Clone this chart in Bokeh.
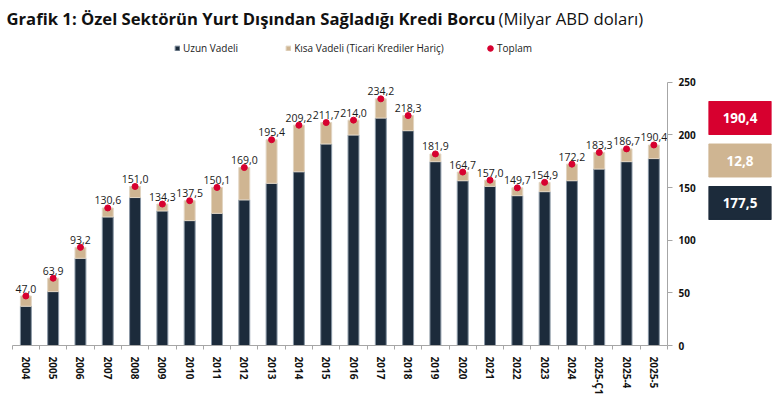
import numpy as np
from bokeh.plotting import figure
from bokeh.models import (ColumnDataSource, Range1d, FixedTicker, Label, Legend,
                          LegendItem)
from bokeh.layouts import row
from bokeh.embed import file_html
from bokeh.resources import INLINE
from bokeh.core.properties import value

# ---------------- data ----------------
categories = ["2004", "2005", "2006", "2007", "2008", "2009", "2010", "2011", "2012",
              "2013", "2014", "2015", "2016", "2017", "2018", "2019", "2020", "2021",
              "2022", "2023", "2024", "2025-Ç1", "2025-4", "2025-5"]
total = [47.0, 63.9, 93.2, 130.6, 151.0, 134.3, 137.5, 150.1, 169.0, 195.4, 209.2, 211.7,
         214.0, 234.2, 218.3, 181.9, 164.7, 157.0, 149.7, 154.9, 172.2, 183.3, 186.7, 190.4]
long_term = [37.3, 51.2, 82.8, 122.1, 140.5, 127.8, 118.6, 125.5, 138.3, 154.0, 165.0, 191.4,
             199.9, 216.0, 204.0, 174.6, 156.5, 151.1, 142.3, 146.1, 156.5, 167.6, 174.6, 177.5]
short_term = [9.7, 12.7, 10.4, 8.5, 10.5, 6.5, 18.9, 24.6, 30.7, 41.4, 44.2, 20.3,
              14.1, 18.2, 14.3, 7.3, 8.2, 5.9, 7.4, 8.8, 15.7, 15.7, 12.1, 12.8]
y_ticks = [0, 50, 100, 150, 200, 250]
series_names = ["Uzun Vadeli", "Kısa Vadeli (Ticari Krediler Hariç)", "Toplam"]
title_bold = "Grafik 1: Özel Sektörün Yurt Dışından Sağladığı Kredi Borcu"
title_normal = "(Milyar ABD doları)"

DARK = "#1c2b3b"
TAN = "#cfb592"
RED = "#d7002f"
GREY = "#a6a6a6"

H = 397
TOP = 0
BOTTOM = 52
FRAME_H = H - TOP - BOTTOM


def fmt(v):
    return f"{v:.1f}".replace(".", ",")


n = len(categories)
xs = np.arange(n) + 0.5
src = ColumnDataSource(dict(x=xs, cat=categories, long=long_term, short=short_term,
                            total=total, lbl=[fmt(v) for v in total]))

# ---------------- main figure ----------------
p = figure(width=708, height=H, x_range=Range1d(-0.4285, n), y_range=Range1d(0, 327.6),
           y_axis_location="right", output_backend="svg", toolbar_location=None,
           min_border_left=0, min_border_right=41, min_border_top=TOP,
           min_border_bottom=BOTTOM)
p.outline_line_color = None
p.xgrid.visible = False
p.ygrid.visible = False
p.background_fill_color = "white"

bars = p.vbar_stack(["long", "short"], x="x", width=0.4, color=[DARK, TAN],
                    line_color=["#8896a4", "#e2d5c2"], line_width=1, source=src)
dots = p.scatter("x", "total", size=6, color=RED, source=src)
p.text("x", "total", text="lbl", text_align="center", text_baseline="alphabetic",
       y_offset=-7.5, text_font=value("Open Sans"), text_font_size="10.5px",
       text_color="#1a1a1a", source=src)

xa = p.xaxis[0]
xa.ticker = FixedTicker(ticks=list(xs), minor_ticks=list(range(n + 1)))
xa.major_label_overrides = {float(x): c for x, c in zip(xs, categories)}
xa.bounds = (0, n)
xa.axis_line_color = GREY
xa.major_tick_line_color = None
xa.major_tick_out = 0
xa.minor_tick_line_color = GREY
xa.minor_tick_out = 4
xa.minor_tick_in = 0
xa.major_label_orientation = "vertical"
xa.major_label_standoff = 7
xa.major_label_text_font = "Open Sans"
xa.major_label_text_font_style = "bold"
xa.major_label_text_font_size = "10px"
xa.major_label_text_color = "#111111"

ya = p.yaxis[0]
ya.ticker = FixedTicker(ticks=y_ticks, minor_ticks=[])
ya.bounds = (0, 250)
ya.axis_line_color = GREY
ya.major_tick_line_color = GREY
ya.major_tick_out = 5
ya.major_tick_in = 0
ya.minor_tick_line_color = None
ya.major_label_standoff = 6
ya.major_label_text_font = "Open Sans"
ya.major_label_text_font_style = "bold"
ya.major_label_text_font_size = "10px"
ya.major_label_text_color = "#111111"

legend_style = dict(orientation="horizontal", padding=0, margin=0, border_line_color=None,
                    background_fill_alpha=0, label_text_font="Open Sans",
                    label_text_font_size="10px", label_height=12,
                    label_text_color="#222222")
legend_bars = Legend(items=[LegendItem(label=series_names[0], renderers=[bars[0]]),
                            LegendItem(label=series_names[1], renderers=[bars[1]])],
                     location=(174, FRAME_H - 55), glyph_width=6, glyph_height=6,
                     label_standoff=3, spacing=47, **legend_style)
legend_dot = Legend(items=[LegendItem(label=series_names[2], renderers=[dots])],
                    location=(483, FRAME_H - 55), glyph_width=14, glyph_height=14,
                    label_standoff=0, **legend_style)
p.add_layout(legend_bars)
p.add_layout(legend_dot)

TITLE_BASE = FRAME_H - 17.5
p.add_layout(Label(x=6, y=TITLE_BASE, x_units="screen", y_units="screen", text=title_bold,
                   text_font="Open Sans", text_font_style="bold", text_font_size="16.66px",
                   text_baseline="alphabetic", text_color="#111111"))
p.add_layout(Label(x=498, y=TITLE_BASE, x_units="screen", y_units="screen", text=title_normal,
                   text_font="Open Sans", text_font_size="16.7px",
                   text_baseline="alphabetic", text_color="#111111"))

# ---------------- value boxes ----------------
box_vals = [long_term[-1], short_term[-1], total[-1]]
bsrc = ColumnDataSource(dict(k=np.arange(3), txt=[fmt(v) for v in box_vals],
                             c=[DARK, TAN, RED]))
b = figure(width=75, height=H, x_range=Range1d(0, 1), y_range=Range1d(-3.353, 4.765),
           output_backend="svg", toolbar_location=None, x_axis_location=None,
           y_axis_location=None, min_border_left=0, min_border_right=12,
           min_border_top=TOP, min_border_bottom=BOTTOM)
b.outline_line_color = None
b.xgrid.visible = False
b.ygrid.visible = False
b.hbar(y="k", left=0, right=1, height=0.776, color="c", source=bsrc)
b.text(x=0.5, y="k", text="txt", text_align="center", text_baseline="middle",
       text_color="white", text_font=value("Open Sans"), text_font_style="bold",
       text_font_size="13.5px", source=bsrc)

layout = row(p, b)
open("out.html", "w").write(file_html(layout, INLINE))
